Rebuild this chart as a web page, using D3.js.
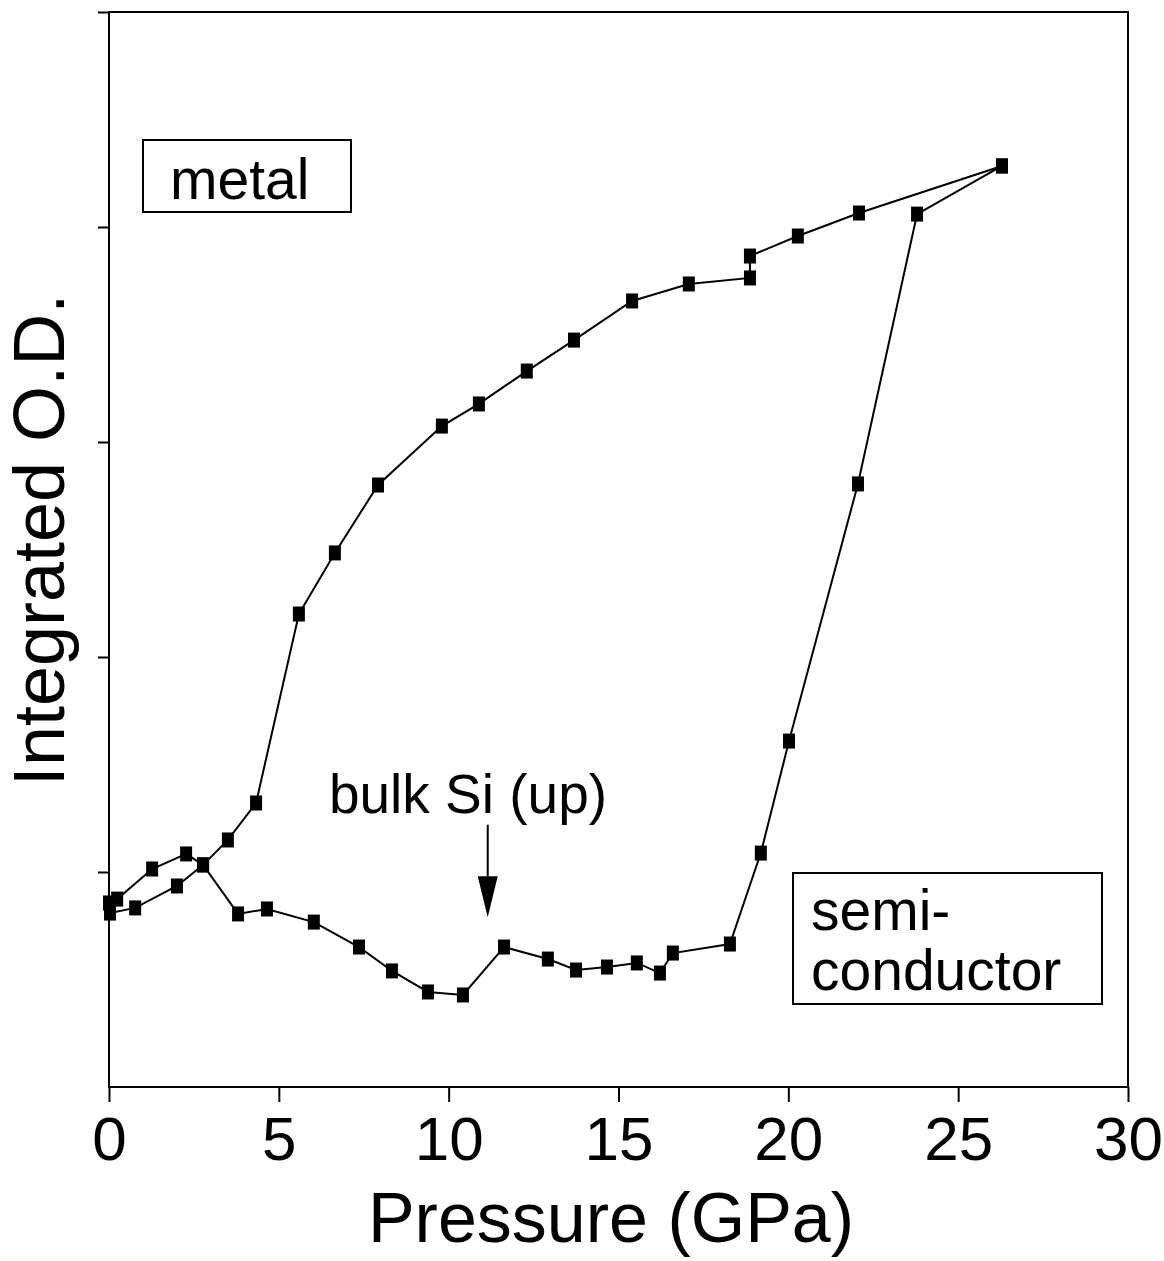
<!DOCTYPE html>
<html>
<head>
<meta charset="utf-8">
<script src="https://cdn.jsdelivr.net/npm/d3@7"></script>
<style>
  html, body { margin: 0; padding: 0; background: #fff; }
  svg { display: block; font-family: "Liberation Sans", Arial, Helvetica, sans-serif; }
</style>
</head>
<body>
<svg id="chart" width="1164" height="1261"></svg>
<script>
// ---- data ----
const xTicks = [0, 5, 10, 15, 20, 25, 30];
const yTicks = [1, 2, 3, 4, 5];

// increasing pressure (stays semiconducting until ~19 GPa)
const upP  = [0.03, 0.77, 2.00, 2.77, 3.80, 4.65, 6.03, 7.36, 8.33, 9.39, 10.42, 11.63, 12.92, 13.75, 14.66, 15.54, 16.22, 16.60, 18.28, 19.19, 20.02, 22.05, 23.79, 26.29];
const upOD = [0.809, 0.833, 0.935, 1.033, 0.805, 0.828, 0.767, 0.651, 0.540, 0.442, 0.428, 0.651, 0.595, 0.544, 0.558, 0.577, 0.530, 0.623, 0.665, 1.088, 1.609, 2.805, 4.060, 4.284];

// decreasing pressure (stays metallic down to ~5 GPa)
const downP  = [26.29, 22.08, 20.28, 18.87, 18.87, 17.07, 15.40, 13.69, 12.30, 10.89, 9.80, 7.92, 6.65, 5.59, 4.33, 3.50, 2.77, 2.27, 1.27, 0.24, 0.0];
const downOD = [4.284, 4.065, 3.958, 3.865, 3.763, 3.735, 3.656, 3.474, 3.330, 3.177, 3.074, 2.800, 2.484, 2.200, 1.321, 1.149, 1.033, 1.084, 1.014, 0.874, 0.856];

const xLabel = "Pressure (GPa)";
const yLabel = "Integrated O.D.";

(function draw() {
  const svg = d3.select("#chart");
  const mL = 109, mR = 1128, mT = 12, mB = 1087;

  const x = d3.scaleLinear().domain([0, 30]).range([mL, mR]);
  const y = d3.scaleLinear().domain([0, 5]).range([mB, mT]);

  // frame
  svg.append("rect")
    .attr("x", mL).attr("y", mT)
    .attr("width", mR - mL).attr("height", mB - mT)
    .attr("fill", "none").attr("stroke", "#000").attr("stroke-width", 2);

  // x axis
  const xAxis = svg.append("g")
    .attr("transform", `translate(0,${mB})`)
    .call(d3.axisBottom(x).tickValues(xTicks).tickSize(15).tickPadding(14).tickFormat(d3.format("d")));
  xAxis.select(".domain").remove();
  xAxis.selectAll("line").attr("stroke", "#000").attr("stroke-width", 2);
  xAxis.selectAll("text").attr("font-size", 62).attr("fill", "#000")
    .attr("font-family", "Liberation Sans, Arial, sans-serif");

  // y axis (ticks only, no labels)
  const yAxis = svg.append("g")
    .attr("transform", `translate(${mL},0)`)
    .call(d3.axisLeft(y).tickValues(yTicks).tickSize(11).tickFormat(""));
  yAxis.select(".domain").remove();
  yAxis.selectAll("line").attr("stroke", "#000").attr("stroke-width", 2);

  // axis titles
  svg.append("text")
    .attr("x", 611).attr("y", 1242)
    .attr("text-anchor", "middle").attr("font-size", 70).attr("fill", "#000")
    .text(xLabel);

  svg.append("text")
    .attr("transform", `translate(64,540) rotate(-90)`)
    .attr("text-anchor", "middle").attr("font-size", 72).attr("fill", "#000")
    .text(yLabel);

  // series
  const up = upP.map((p, i) => ({ p, v: upOD[i] }));
  const down = downP.map((p, i) => ({ p, v: downOD[i] }));

  const line = d3.line().x(d => x(d.p)).y(d => y(d.v));

  [up, down].forEach(series => {
    svg.append("path")
      .datum(series)
      .attr("d", line)
      .attr("fill", "none")
      .attr("stroke", "#000")
      .attr("stroke-width", 2);
  });

  [up, down].forEach(series => {
    svg.append("g").selectAll("rect")
      .data(series)
      .join("rect")
      .attr("x", d => x(d.p) - 6)
      .attr("y", d => y(d.v) - 7.5)
      .attr("width", 12)
      .attr("height", 15)
      .attr("fill", "#000");
  });

  // annotation: metal box
  svg.append("rect")
    .attr("x", 143).attr("y", 140).attr("width", 208).attr("height", 72)
    .attr("fill", "#fff").attr("stroke", "#000").attr("stroke-width", 2);
  svg.append("text")
    .attr("x", 170).attr("y", 199).attr("font-size", 57).attr("fill", "#000")
    .text("metal");

  // annotation: semiconductor box
  svg.append("rect")
    .attr("x", 793).attr("y", 873).attr("width", 309).attr("height", 131)
    .attr("fill", "#fff").attr("stroke", "#000").attr("stroke-width", 2);
  const sc = svg.append("text").attr("font-size", 57).attr("fill", "#000");
  sc.append("tspan").attr("x", 811).attr("y", 930).text("semi-");
  sc.append("tspan").attr("x", 811).attr("y", 990).text("conductor");

  // annotation: bulk Si arrow
  const arrowP = 11.15;
  svg.append("text")
    .attr("x", 468).attr("y", 813)
    .attr("text-anchor", "middle").attr("font-size", 55).attr("fill", "#000")
    .text("bulk Si (up)");
  svg.append("line")
    .attr("x1", x(arrowP)).attr("x2", x(arrowP))
    .attr("y1", y(1.22)).attr("y2", y(0.98))
    .attr("stroke", "#000").attr("stroke-width", 2);
  const tipX = x(arrowP), tipY = y(0.79), baseY = y(0.98);
  svg.append("path")
    .attr("d", `M${tipX - 10},${baseY} L${tipX + 10},${baseY} L${tipX},${tipY} Z`)
    .attr("fill", "#000");
})();
</script>
</body>
</html>
